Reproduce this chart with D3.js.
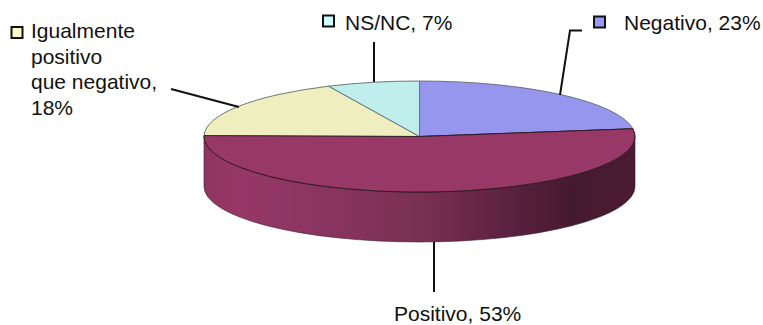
<!DOCTYPE html>
<html><head><meta charset="utf-8">
<script src="https://cdn.jsdelivr.net/npm/d3@7"></script>
<style>html,body{margin:0;padding:0;background:#fff}svg{display:block}
text{font-family:"Liberation Sans",Arial,sans-serif;font-size:21px;fill:#111}</style>
</head><body><div id="c"></div>
<script>
const categories = ["Negativo","Positivo","Igualmente positivo que negativo","NS/NC"];
const values = [23,53,18,7];
const sliceColors = ["#9696ee","#983867","#eeeebe","#bfeeec"];
const keyColors = ["#9999ff",null,"#ffffcc","#ccffff"];
const labelLines = [["Negativo, 23%"],["Positivo, 53%"],["Igualmente","positivo","que negativo,","18%"],["NS/NC, 7%"]];
const labelPos = [[624,30],[394,321],[31,38],[345,30]];
const keyPos = [[599.5,22],null,[17,32.5],[328.5,21]];
const leaders = [
  [[582,30.5],[570,30.5],[560,95]],
  [[434,242],[434,292]],
  [[171,89],[239,107]],
  [[374,42],[374,82]]
];
const W=763,H=325,cx=419.5,cy=136.5,rx=215.5,ry=55.5,depth=50;

const svg=d3.select("#c").append("svg").attr("width",W).attr("height",H);
const grad=svg.append("defs").append("linearGradient").attr("id","wall");
[[0,"#8e3562"],[0.08,"#973867"],[0.2,"#8f3663"],[0.5,"#7a3055"],[0.72,"#5a2040"],[0.85,"#461a2e"],[1,"#4a1b31"]]
 .forEach(s=>grad.append("stop").attr("offset",s[0]).attr("stop-color",s[1]));

const pie=d3.pie().sort(null).value(d=>d)(values);
const arc=d3.arc().innerRadius(0).outerRadius(rx);

// visible side wall of the Positivo slice
const yS=ry/rx;
const wall=`M${cx-rx},${cy} L${cx-rx},${cy+depth} A${rx},${ry} 0 0 0 ${cx+rx},${cy+depth} L${cx+rx},${cy} A${rx},${ry} 0 0 1 ${cx-rx},${cy} Z`;
svg.append("path").attr("d",wall).attr("fill","url(#wall)").attr("stroke","#3a2030").attr("stroke-width",0.6);

const face=svg.append("g").attr("transform",`translate(${cx},${cy}) scale(1,${yS})`);
face.selectAll("path").data(pie).join("path")
  .attr("d",arc).attr("fill",(d,i)=>sliceColors[i])
  .attr("stroke",(d,i)=>i==1?"#2c1a24":"#5d6a70").attr("stroke-width",0.9)
  .attr("vector-effect","non-scaling-stroke");
face.append("path").datum(pie[1]).attr("d",arc).attr("fill",sliceColors[1])
  .attr("stroke","#2c1a24").attr("stroke-width",0.9).attr("vector-effect","non-scaling-stroke");

const lineGen=d3.line();
svg.selectAll("path.leader").data(leaders).join("path").attr("class","leader")
  .attr("d",d=>lineGen(d)).attr("fill","none").attr("stroke","#111").attr("stroke-width",2);

categories.forEach((c,i)=>{
  if(keyPos[i]) svg.append("rect").attr("x",keyPos[i][0]-5.5).attr("y",keyPos[i][1]-5.5)
    .attr("width",11).attr("height",11).attr("fill",keyColors[i]).attr("stroke","#111").attr("stroke-width",2);
  const t=svg.append("text").attr("x",labelPos[i][0]).attr("y",labelPos[i][1]);
  labelLines[i].forEach((l,j)=>t.append("tspan").attr("x",labelPos[i][0]).attr("dy",j?25.6:0).text(l));
});
</script></body></html>
